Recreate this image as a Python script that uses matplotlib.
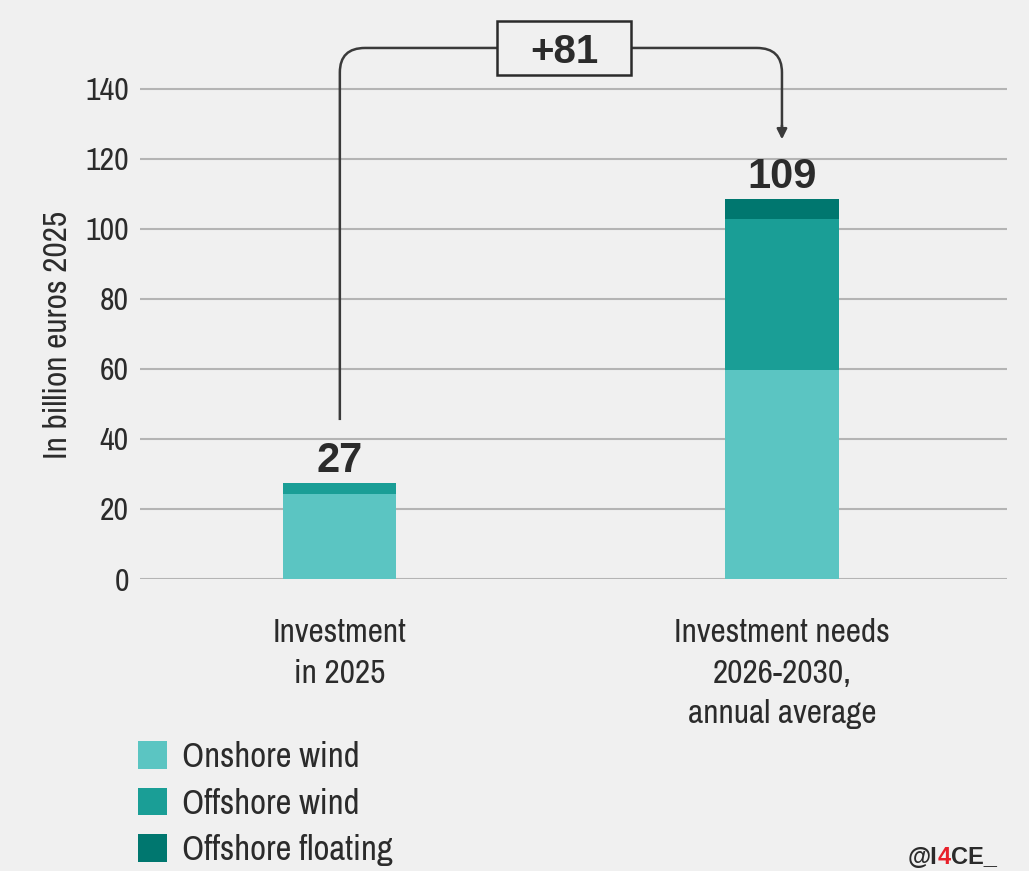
import numpy as np
import matplotlib
matplotlib.use("Agg")
import matplotlib.pyplot as plt
from matplotlib.path import Path
from matplotlib.patches import PathPatch, Rectangle
from matplotlib import font_manager

# Data (billion euros 2025)
categories = ["Investment\nin 2025", "Investment needs\n2026-2030,\nannual average"]
onshore = [24.4, 59.7]
offshore = [3.0, 43.0]
floating = [0.0, 5.9]
series_names = ["Onshore wind", "Offshore wind", "Offshore floating"]
colors = ["#5bc5c2", "#1a9e96", "#00776f"]
yticks = [0, 20, 40, 60, 80, 100, 120, 140]

# pick a narrow font for the body text
fl = font_manager.fontManager.ttflist
narrow = sorted({f.name for f in fl if "Narrow" in f.name or "Condensed" in f.name})
fam = narrow[0] if narrow else "Roboto"
plt.rcParams["font.family"] = [fam, "DejaVu Sans"]
num_font = ["Liberation Sans", "DejaVu Sans"]

bg = "#f0f0f0"
txt = "#2b2b2b"

fig = plt.figure(figsize=(10.29, 8.71), dpi=100, facecolor=bg)
ax = fig.add_axes([140 / 1029, 292 / 871, 867 / 1029, 579 / 871])
ax.set_facecolor(bg)

x = np.arange(len(categories))
width = 0.256
bottom = np.zeros(len(categories))
handles = []
for vals, col in zip([onshore, offshore, floating], colors):
    h = ax.bar(x, vals, width, bottom=bottom, color=col, zorder=2)
    handles.append(h)
    bottom += np.array(vals)
totals = bottom

ax.set_xlim(-0.452, 1.509)
ax.set_ylim(0, 165.4)
ax.set_yticks(yticks)
ax.grid(axis="y", color="#b4b4b4", linewidth=1.5, zorder=0)
ax.set_axisbelow(True)
for s in ax.spines.values():
    s.set_visible(False)
ax.tick_params(axis="y", length=0, pad=8, labelsize=23, labelcolor=txt)
ax.set_xticks(x)
ax.set_xticklabels(categories, fontsize=24, color=txt, linespacing=1.45)
ax.tick_params(axis="x", length=0, pad=28)
ax.set_ylabel("In billion euros 2025", fontsize=24, color=txt)
ax.yaxis.set_label_coords(-0.077, 0.421)

# total labels
for xi, t in zip(x, totals):
    ax.text(xi, t + 3.2, f"{round(t):d}", ha="center", va="baseline",
            fontsize=30, fontweight="bold", color=txt, zorder=3,
            family=num_font)

# bracket with arrow showing the difference
top = 151.7
rx, ry = 0.057, 7.0
y_start = totals[0] + 18
y_end = totals[1] + 17
verts = [(x[0], y_start), (x[0], top - ry), (x[0], top), (x[0] + rx, top),
         (x[1] - rx, top), (x[1], top), (x[1], top - ry), (x[1], y_end + 3)]
codes = [Path.MOVETO, Path.LINETO, Path.CURVE3, Path.CURVE3,
         Path.LINETO, Path.CURVE3, Path.CURVE3, Path.LINETO]
ax.add_patch(PathPatch(Path(verts, codes), fill=False, edgecolor="#3a3a3a",
                       linewidth=1.8, clip_on=False, zorder=3))
ax.annotate("", xy=(x[1], y_end), xytext=(x[1], y_end + 4),
            arrowprops=dict(arrowstyle="-|>,head_length=0.6,head_width=0.3",
                            color="#3a3a3a", lw=1.8, shrinkA=0, shrinkB=0))
diff = totals[1] - totals[0]
bx, bw, bh = 0.507, 0.305, 15.4
ax.add_patch(Rectangle((bx - bw / 2, top - bh / 2), bw, bh, facecolor=bg,
                       edgecolor="#2b2b2b", linewidth=1.8, clip_on=False,
                       zorder=4))
ax.text(bx, top, f"+{round(diff):d}", ha="center", va="center_baseline",
        fontsize=29, fontweight="bold", color=txt, zorder=5, family=num_font)

# legend
leg = ax.legend(handles, series_names, loc="upper left",
                bbox_to_anchor=(138 / 1029, 1 - 741 / 871),
                bbox_transform=fig.transFigure, frameon=False,
                fontsize=25, handlelength=0.84, handleheight=0.84,
                handletextpad=0.43, labelspacing=0.42, borderpad=0,
                borderaxespad=0)
for t in leg.get_texts():
    t.set_color(txt)

# credit
cx = 908 / 1029
cy = 1 - 857 / 871
t1 = fig.text(cx, cy, "@I", ha="left", va="center", fontsize=17,
              fontweight="bold", color=txt, family=num_font)
fig.canvas.draw()
bb = t1.get_window_extent()
t2 = fig.text(bb.x1 / fig.bbox.width, cy, "4", ha="left", va="center",
              fontsize=17, fontweight="bold", color="#e8202a", family=num_font)
bb2 = t2.get_window_extent()
fig.text(bb2.x1 / fig.bbox.width, cy, "CE_", ha="left", va="center",
         fontsize=17, fontweight="bold", color=txt, family=num_font)

fig.savefig("out.png", dpi=100, facecolor=bg)
